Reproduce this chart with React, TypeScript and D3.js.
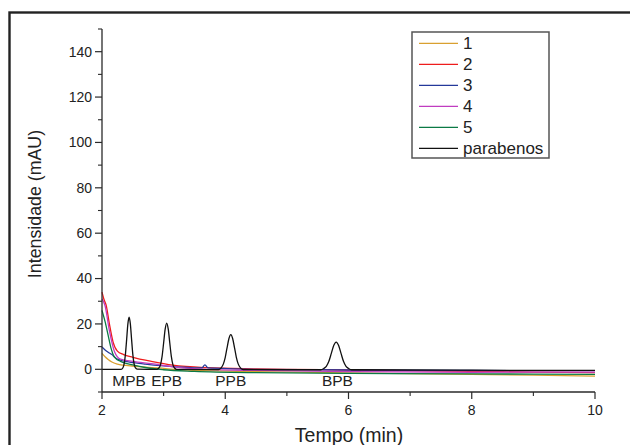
import React from "react";
import * as d3 from "d3";

type P = [number, number];

const seriesNames = ["1", "2", "3", "4", "5", "parabenos"];
const seriesColors = ["#d9a030", "#ee1c1c", "#24399a", "#c03cc0", "#0b7a45", "#111111"];

const s1: P[] = [[2, 7], [2.05, 5.5], [2.1, 4.3], [2.16, 3.2], [2.25, 2.3], [2.35, 1.8], [2.6, 1.2], [2.9, 0.6], [3.4, -0.4], [4.5, -1], [6, -1.6], [8, -2.2], [9, -2.6], [10, -3]];
const s2: P[] = [[2, 34], [2.03, 31], [2.07, 28], [2.12, 20], [2.18, 12], [2.25, 8], [2.35, 6.5], [2.5, 5.3], [2.8, 3.5], [3.15, 1.8], [3.7, 0.7], [4.5, 0.2], [5, 0], [6, -0.3], [7, -0.6], [8, -0.9], [9, -1.2], [10, -1.5]];
const s3: P[] = [[2, 9.8], [2.05, 8.5], [2.1, 7.5], [2.16, 6.5], [2.22, 5], [2.3, 4], [2.45, 3.2], [2.7, 2.3], [3.0, 1.5], [3.4, 0.8], [3.62, 0.6], [3.67, 2], [3.72, 0.6], [3.8, 0.5], [4.5, 0], [6, -0.3], [8, -0.5], [10, -0.6]];
const s4: P[] = [[2, 31], [2.05, 28], [2.12, 17], [2.2, 8], [2.3, 4.5], [2.5, 3.5], [2.8, 2.5], [3.2, 1], [3.7, 0], [4.5, -0.5], [6, -1], [8, -1.3], [10, -1.2]];
const s5: P[] = [[2, 26], [2.05, 21], [2.1, 15], [2.15, 9], [2.2, 5.5], [2.3, 3.5], [2.5, 2], [2.7, 0.8], [3.0, -0.2], [3.5, -0.9], [4.5, -1.5], [6, -1.8], [8, -2], [10, -2.2]];
const sParabenos: P[] = [
  [2.0, 0], [2.31, 0], [2.34, 0.7], [2.36, 2.5], [2.38, 6.6], [2.4, 13.2], [2.42, 20.0], [2.44, 23], [2.46, 20.0], [2.48, 13.2], [2.5, 6.6], [2.52, 2.5], [2.54, 0.7], [2.57, 0.1],
  [2.89, 0], [2.92, 0.45], [2.95, 2.1], [2.975, 5.7], [3.0, 11.6], [3.025, 17.7], [3.05, 20.4], [3.075, 17.7], [3.1, 11.6], [3.125, 5.7], [3.15, 2.1], [3.18, 0.45], [3.21, 0],
  [3.89, -0.1], [3.93, 0.55], [3.97, 2.4], [4.0, 5.3], [4.03, 9.6], [4.06, 13.6], [4.09, 15.3], [4.12, 13.6], [4.15, 9.6], [4.18, 5.3], [4.21, 2.4], [4.25, 0.55], [4.29, -0.1],
  [5.55, -0.2], [5.6, 0.4], [5.64, 1.3], [5.68, 3.4], [5.72, 6.9], [5.76, 10.5], [5.8, 12], [5.84, 10.5], [5.88, 6.9], [5.92, 3.4], [5.96, 1.3], [6.0, 0.4], [6.05, -0.2],
  [8, -0.4], [10, -0.5],
];
const allSeries = [s1, s2, s3, s4, s5, sParabenos];

const peakLabels = ["MPB", "EPB", "PPB", "BPB"];
const peakLabelX = [2.44, 3.05, 4.09, 5.82];

const xMajor = [2, 4, 6, 8, 10];
const xMinor = [3, 5, 7, 9];
const yMajor = [0, 20, 40, 60, 80, 100, 120, 140];
const yMinor = [-10, 10, 30, 50, 70, 90, 110, 130, 150];

const FONT = "'Liberation Sans', Arial, Helvetica, sans-serif";

export default function App() {
  const x = d3.scaleLinear().domain([2, 10]).range([102, 595]);
  const y = d3.scaleLinear().domain([-10, 150]).range([392, 29]);
  const line = d3
    .line<P>()
    .x((d) => x(d[0]))
    .y((d) => y(d[1]))
    .curve(d3.curveMonotoneX);

  const axisColor = "#2a2a2a";
  const legendX = 412;
  const legendY = 32;

  return (
    <svg
      width={630}
      height={445}
      style={{ position: "absolute", left: 0, top: 0, background: "#fff" }}
      fontFamily={FONT}
    >
      <rect x={0} y={0} width={630} height={445} fill="#fff" />
      <rect x={9.5} y={12.5} width={640} height={460} fill="none" stroke="#222" strokeWidth={2.4} />

      {/* series */}
      {allSeries.map((s, i) => (
        <path key={i} d={line(s) || ""} fill="none" stroke={seriesColors[i]} strokeWidth={1.3} />
      ))}

      {/* axes */}
      <line x1={x(2)} x2={x(2)} y1={y(150)} y2={y(-10)} stroke={axisColor} strokeWidth={1.3} />
      <line x1={x(2)} x2={x(10)} y1={y(-10)} y2={y(-10)} stroke={axisColor} strokeWidth={1.3} />
      {yMajor.map((v) => (
        <g key={"ym" + v}>
          <line x1={x(2) - 7} x2={x(2)} y1={y(v)} y2={y(v)} stroke={axisColor} strokeWidth={1.2} />
          <text x={x(2) - 10} y={y(v)} dy="0.35em" textAnchor="end" fontSize={14} fill="#222">
            {v}
          </text>
        </g>
      ))}
      {yMinor.map((v) => (
        <line key={"yn" + v} x1={x(2) - 4} x2={x(2)} y1={y(v)} y2={y(v)} stroke={axisColor} strokeWidth={1.1} />
      ))}
      {xMajor.map((v) => (
        <g key={"xm" + v}>
          <line x1={x(v)} x2={x(v)} y1={y(-10)} y2={y(-10) + 7} stroke={axisColor} strokeWidth={1.2} />
          <text x={x(v)} y={y(-10) + 23} textAnchor="middle" fontSize={14} fill="#222">
            {v}
          </text>
        </g>
      ))}
      {xMinor.map((v) => (
        <line key={"xn" + v} x1={x(v)} x2={x(v)} y1={y(-10)} y2={y(-10) + 4} stroke={axisColor} strokeWidth={1.1} />
      ))}

      {/* axis titles */}
      <text x={349} y={442} textAnchor="middle" fontSize={19.5} fill="#222">
        Tempo (min)
      </text>
      <text
        transform={`translate(41, 204) rotate(-90)`}
        textAnchor="middle"
        fontSize={17.8}
        fill="#222"
      >
        Intensidade (mAU)
      </text>

      {/* peak labels */}
      {peakLabels.map((l, i) => (
        <text key={l} x={x(peakLabelX[i])} y={386} textAnchor="middle" fontSize={15.5} fill="#222">
          {l}
        </text>
      ))}

      {/* legend */}
      <rect x={legendX} y={legendY} width={137} height={126} fill="#fff" stroke="#555" strokeWidth={1.5} />
      {seriesNames.map((n, i) => {
        const ry = 43.3 + i * 21;
        return (
          <g key={n}>
            <line x1={419} x2={458} y1={ry} y2={ry} stroke={seriesColors[i]} strokeWidth={1.3} />
            <text x={463} y={ry} dy="0.36em" fontSize={17} fill="#222">
              {n}
            </text>
          </g>
        );
      })}
    </svg>
  );
}
